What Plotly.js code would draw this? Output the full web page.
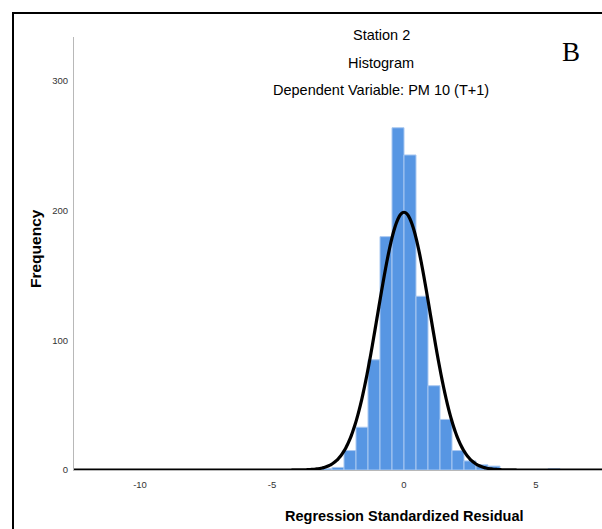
<!DOCTYPE html>
<html>
<head>
<meta charset="utf-8">
<script src="https://cdn.plot.ly/plotly-3.0.1.min.js"></script>
<style>
  html, body { margin: 0; padding: 0; background: #fff; }
  #wrap { position: relative; width: 602px; height: 529px; overflow: hidden; }
  #chart { position: absolute; left: 0; top: 0; width: 602px; height: 529px; }
  #frame { position: absolute; left: 12px; top: 12px; width: 620px; height: 560px;
           border-left: 2px solid #000; border-top: 2px solid #000; pointer-events: none; }
</style>
</head>
<body>
<div id="wrap">
  <div id="chart"></div>
  <div id="frame"></div>
</div>
<script>
// Histogram bins (regression standardized residuals)
const binWidth = 0.4545;
const binCenters = [-2.955, -2.500, -2.045, -1.591, -1.136, -0.682, -0.227, 0.227, 0.682, 1.136, 1.591, 2.045, 2.500, 2.955, 3.409, 5.682];
const counts     = [1, 2, 15, 33, 85, 180, 264, 243, 134, 65, 39, 15, 7, 4, 3, 1];

// Fitted normal curve parameters
const fitMean = 0.0;
const fitSD = 0.995;

const xTickVals = [-10, -5, 0, 5];
const yTickVals = [0, 100, 200, 300];

const N = counts.reduce((a, b) => a + b, 0);
const curveX = [], curveY = [];
for (let i = 0; i <= 440; i++) {
  const x = -12.5 + i * 0.05;
  const z = (x - fitMean) / fitSD;
  curveX.push(x);
  curveY.push(N * binWidth * Math.exp(-0.5 * z * z) / (fitSD * Math.sqrt(2 * Math.PI)));
}

const narrow = "'Liberation Sans Narrow', 'Arial Narrow', 'Liberation Sans', Arial, sans-serif";

const traces = [
  {
    type: 'bar', x: binCenters, y: counts, width: binWidth,
    marker: { color: '#5796e3', line: { color: '#a9c8f1', width: 1 } },
    hoverinfo: 'skip'
  },
  {
    type: 'scatter', mode: 'lines', x: curveX, y: curveY,
    line: { color: '#000', width: 3.2, shape: 'spline' },
    hoverinfo: 'skip'
  }
];

const W = 528, H = 433;
function px(p) { return (p - 74) / W; }
function py(p) { return (470 - p) / H; }

const layout = {
  width: 602, height: 529,
  margin: { l: 74, r: 0, t: 37, b: 59 },
  paper_bgcolor: '#fff', plot_bgcolor: '#fff',
  showlegend: false,
  bargap: 0,
  xaxis: {
    range: [-12.5, 7.5], tickvals: xTickVals, ticktext: xTickVals.map(String),
    showgrid: false, zeroline: false, showline: true, linecolor: '#b8b8b8', linewidth: 1,
    ticks: 'outside', ticklen: 6, tickcolor: 'rgba(0,0,0,0)',
    tickfont: { family: narrow, size: 9.5, color: '#333' }
  },
  yaxis: {
    range: [0, 334], tickvals: yTickVals, ticktext: yTickVals.map(String),
    showgrid: false, zeroline: false, showline: true, linecolor: '#b8b8b8', linewidth: 1,
    ticks: 'outside', ticklen: 3, tickcolor: 'rgba(0,0,0,0)',
    tickfont: { family: narrow, size: 9.5, color: '#333' }
  },
  annotations: [
    { text: 'Station 2', xref: 'paper', yref: 'paper', x: px(381), y: py(35), showarrow: false,
      xanchor: 'center', yanchor: 'middle', font: { family: narrow, size: 14.5, color: '#000' } },
    { text: 'Histogram', xref: 'paper', yref: 'paper', x: px(381), y: py(63), showarrow: false,
      xanchor: 'center', yanchor: 'middle', font: { family: narrow, size: 14.5, color: '#000' } },
    { text: 'Dependent Variable: PM 10 (T+1)', xref: 'paper', yref: 'paper', x: px(381), y: py(90), showarrow: false,
      xanchor: 'center', yanchor: 'middle', font: { family: narrow, size: 14.5, color: '#000' } },
    { text: 'B', xref: 'paper', yref: 'paper', x: px(571), y: py(52), showarrow: false,
      xanchor: 'center', yanchor: 'middle', font: { family: "'Liberation Serif', 'Times New Roman', serif", size: 27, color: '#000' } },
    { text: '<b>Regression Standardized Residual</b>', xref: 'paper', yref: 'paper', x: px(404), y: py(516), showarrow: false,
      xanchor: 'center', yanchor: 'middle', font: { family: narrow, size: 14.5, color: '#000' } },
    { text: '<b>Frequency</b>', xref: 'paper', yref: 'paper', x: px(35), y: py(249), showarrow: false, textangle: -90,
      xanchor: 'center', yanchor: 'middle', font: { family: "'Liberation Sans', Arial, sans-serif", size: 15.5, color: '#000' } }
  ]
};

Plotly.newPlot('chart', traces, layout, { staticPlot: true, displayModeBar: false });
</script>
</body>
</html>
